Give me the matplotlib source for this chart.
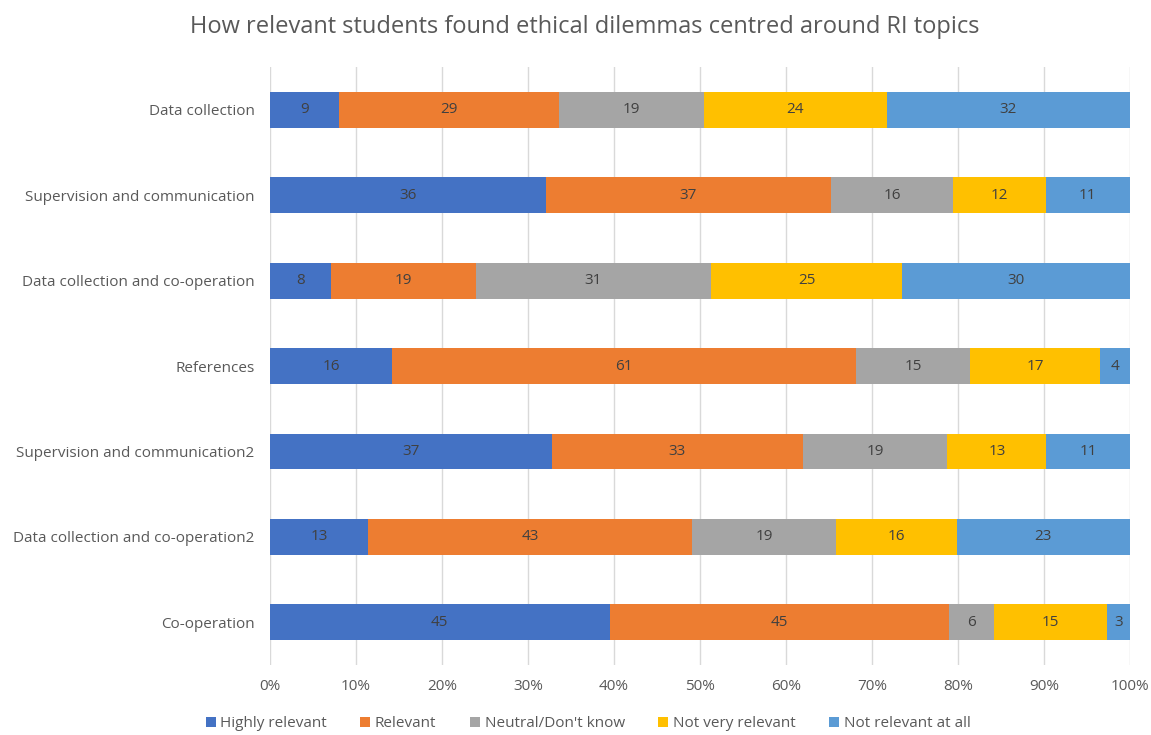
import matplotlib.pyplot as plt
import numpy as np
from matplotlib.ticker import PercentFormatter

plt.rcParams['font.family'] = ['Open Sans', 'DejaVu Sans']

categories = [
    "Data collection",
    "Supervision and communication",
    "Data collection and co-operation",
    "References",
    "Supervision and communication2",
    "Data collection and co-operation2",
    "Co-operation",
]
series_names = ["Highly relevant", "Relevant", "Neutral/Don't know",
                "Not very relevant", "Not relevant at all"]
highly_relevant = [9, 36, 8, 16, 37, 13, 45]
relevant = [29, 37, 19, 61, 33, 43, 45]
neutral = [19, 16, 31, 15, 19, 19, 6]
not_very = [24, 12, 25, 17, 13, 16, 15]
not_at_all = [32, 11, 30, 4, 11, 23, 3]

colors = ["#4472C4", "#ED7D31", "#A5A5A5", "#FFC000", "#5B9BD5"]

counts = np.array([highly_relevant, relevant, neutral, not_very, not_at_all], dtype=float)
shares = counts / counts.sum(axis=0) * 100

fig = plt.figure(figsize=(11.51, 7.35), dpi=100)
ax = fig.add_axes([0.2346, 0.0952, 0.7472, 0.8136])

y = np.arange(len(categories))
left = np.zeros(len(categories))
for name, share, cnt, color in zip(series_names, shares, counts, colors):
    ax.barh(y, share, left=left, height=0.42, color=color, label=name)
    for yi, l, w, c in zip(y, left, share, cnt):
        ax.text(l + w / 2, yi, f"{int(c)}", ha="center", va="center",
                fontsize=11, color="#404040")
    left += share

ax.set_ylim(len(categories) - 0.5, -0.5)
ax.set_xlim(0, 100)
ax.set_xticks(np.arange(0, 101, 10))
ax.xaxis.set_major_formatter(PercentFormatter(decimals=0))
ax.set_yticks(y)
ax.set_yticklabels(categories)
ax.grid(axis="x", color="#D9D9D9", linewidth=1)
ax.set_axisbelow(True)
for spine in ax.spines.values():
    spine.set_visible(False)
ax.tick_params(axis="both", length=0, labelsize=11, labelcolor="#595959")
ax.tick_params(axis="x", pad=10)
ax.tick_params(axis="y", pad=11)

fig.text(0.508, 0.963, "How relevant students found ethical dilemmas centred around RI topics",
         ha="center", va="center", fontsize=17, color="#595959")

fig.legend(loc="center", bbox_to_anchor=(0.511, 0.015), ncol=5, frameon=False,
           fontsize=11, labelcolor="#595959", handlelength=0.65, handleheight=0.65,
           handletextpad=0.3, columnspacing=2.2)

fig.savefig("out.png", dpi=100)
